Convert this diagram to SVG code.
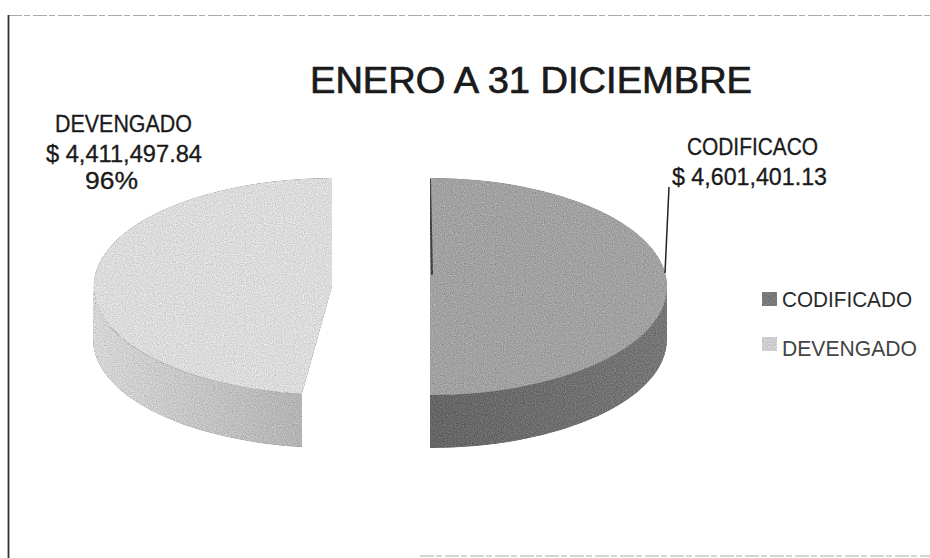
<svg xmlns="http://www.w3.org/2000/svg" width="930" height="558" viewBox="0 0 930 558">
  <style>
    text { font-family: "Liberation Sans", Arial, sans-serif; fill: #1a1a1a; }
    .title { font-size: 36px; stroke: #1a1a1a; stroke-width: 0.7; }
    .lbl { font-size: 23px; stroke: #1a1a1a; stroke-width: 0.3; }
    .leg { font-size: 22px; fill: #2a2a2a; }
    .frame { fill: none; stroke: #333; stroke-width: 1.8; }
    .faint { fill: none; stroke: #aaa; stroke-width: 1; stroke-dasharray: 14 2 6 3; }
    .lead { fill: none; stroke: #222; stroke-width: 1.5; }
  </style>
  <defs>
    <filter id="grain" x="0" y="0" width="1" height="1" color-interpolation-filters="sRGB">
      <feTurbulence type="fractalNoise" baseFrequency="0.9" numOctaves="1" seed="7" result="t"/>
      <feColorMatrix in="t" type="matrix" values="0.33 0.33 0.33 0 0  0.33 0.33 0.33 0 0  0.33 0.33 0.33 0 0  0 0 0 0 1" result="g"/>
      <feComposite in="SourceGraphic" in2="g" operator="arithmetic" k1="0" k2="1" k3="0.6" k4="-0.3" result="m"/>
      <feComposite in="m" in2="SourceGraphic" operator="in"/>
    </filter>
    <linearGradient id="sideLight" x1="0" y1="0" x2="1" y2="0">
      <stop offset="0" stop-color="#d6d6d6"/>
      <stop offset="1" stop-color="#b4b4b4"/>
    </linearGradient>
    <linearGradient id="sideDark" x1="0" y1="0" x2="1" y2="0">
      <stop offset="0" stop-color="#666"/>
      <stop offset="1" stop-color="#777"/>
    </linearGradient>
  </defs>

  <rect width="930" height="558" fill="#fff"/>

  <g id="frame">
    <line class="faint" x1="8" y1="15.5" x2="930" y2="15.5"/>
    <line class="frame" x1="8.5" y1="15" x2="8.5" y2="558"/>
    <line class="faint" x1="420" y1="556" x2="930" y2="556"/>
  </g>

  <g id="title">
    <text class="title" x="531" y="93" text-anchor="middle" textLength="442" lengthAdjust="spacingAndGlyphs">ENERO A 31 DICIEMBRE</text>
  </g>

  <g id="slice-devengado" filter="url(#grain)">
    <path d="M93,286.5 A239,108.5 0 0 0 302,394.1 L302,447.1 A239,108.5 0 0 1 93,339.5 Z" fill="url(#sideLight)"/>
    <path d="M332,178 A239,108.5 0 0 0 302,394.1 L332,286.5 Z" fill="#dcdcdc"/>
  </g>

  <g id="slice-codificado" filter="url(#grain)">
    <path d="M667,286.5 A237,108.5 0 0 1 430,395 L430,448 A237,108.5 0 0 0 667,339.5 Z" fill="url(#sideDark)"/>
    <path d="M430,178 A237,108.5 0 0 1 430,395 Z" fill="#a2a2a2"/>
    <line x1="430" y1="179" x2="432" y2="275" stroke="#444" stroke-width="2"/>
  </g>

  <g id="label-devengado">
    <text class="lbl" x="123.5" y="132" text-anchor="middle" textLength="137" lengthAdjust="spacingAndGlyphs">DEVENGADO</text>
    <text class="lbl" x="124" y="162" text-anchor="middle" textLength="156" lengthAdjust="spacingAndGlyphs">$ 4,411,497.84</text>
    <text class="lbl" x="111.5" y="189" text-anchor="middle" textLength="53" lengthAdjust="spacingAndGlyphs">96%</text>
  </g>

  <g id="label-codificado">
    <text class="lbl" x="752.5" y="155" text-anchor="middle" textLength="131" lengthAdjust="spacingAndGlyphs">CODIFICACO</text>
    <text class="lbl" x="749.5" y="185" text-anchor="middle" textLength="155" lengthAdjust="spacingAndGlyphs">$ 4,601,401.13</text>
  </g>

  <g id="connectors">
    <line class="lead" x1="669" y1="187" x2="665" y2="273"/>
  </g>

  <g id="legend">
    <rect x="762" y="292" width="15" height="14" fill="#7a7a7a" filter="url(#grain)"/>
    <text class="leg" x="782" y="307" textLength="130" lengthAdjust="spacingAndGlyphs">CODIFICADO</text>
    <rect x="762" y="337" width="15" height="14" fill="#cfcfcf" filter="url(#grain)"/>
    <text class="leg" x="782" y="356" textLength="135" lengthAdjust="spacingAndGlyphs" style="fill:#444">DEVENGADO</text>
  </g>
</svg>
